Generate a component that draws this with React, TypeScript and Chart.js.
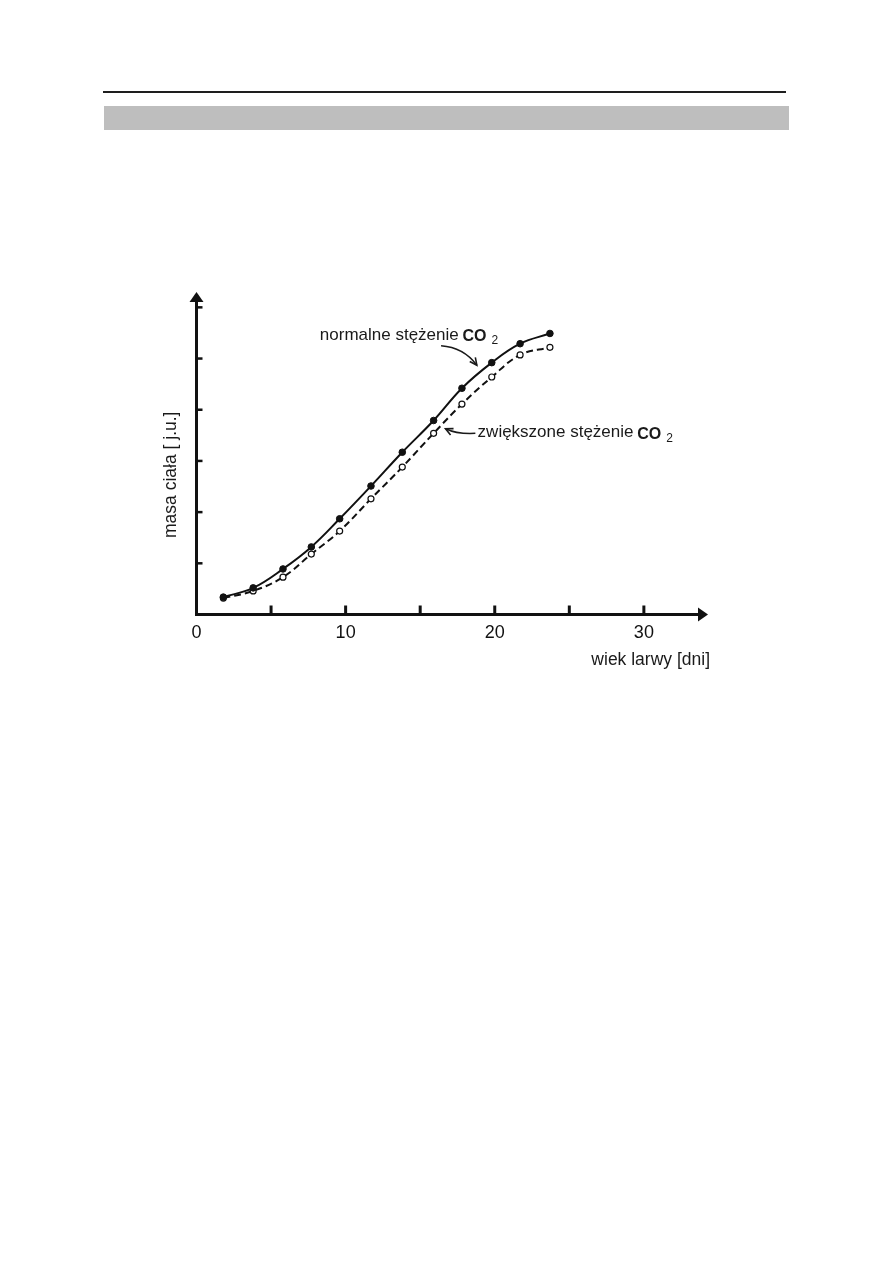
import React, { useEffect, useRef } from "react";
import { Chart, registerables } from "chart.js";

Chart.register(...registerables);

// Data (age of larva in days vs body mass in arbitrary units)
const days = [1.8, 3.8, 5.8, 7.7, 9.6, 11.7, 13.8, 15.9, 17.8, 19.8, 21.7, 23.7];
const normalCO2 = [0.34, 0.52, 0.89, 1.32, 1.87, 2.51, 3.17, 3.79, 4.42, 4.92, 5.29, 5.49];
const elevatedCO2 = [0.32, 0.46, 0.73, 1.18, 1.63, 2.26, 2.88, 3.54, 4.11, 4.64, 5.07, 5.22];

const xTickMarks = [5, 10, 15, 20, 25, 30];
const xTickLabels = [0, 10, 20, 30];
const yTickMarks = [1, 2, 3, 4, 5, 6];

const xTitle = "wiek larwy [dni]";
const yTitle = "masa ciała [ j.u.]";
const normalLabel = "normalne stężenie ";
const elevatedLabel = "zwiększone stężenie ";

const FONT = "'Liberation Sans', Arial, sans-serif";

const axesPlugin = {
  id: "customAxes",
  beforeDatasetsDraw(chart: any) {
    const { ctx, chartArea, scales } = chart;
    const xs = scales.x;
    const ys = scales.y;
    const x0 = xs.getPixelForValue(0);
    const y0 = ys.getPixelForValue(0);
    ctx.save();
    ctx.strokeStyle = "#111";
    ctx.fillStyle = "#111";
    ctx.lineWidth = 3;
    ctx.lineCap = "butt";
    // y axis
    ctx.beginPath();
    ctx.moveTo(x0, y0 + 1.5);
    ctx.lineTo(x0, chartArea.top + 8);
    ctx.stroke();
    ctx.beginPath();
    ctx.moveTo(x0, chartArea.top);
    ctx.lineTo(x0 - 7, chartArea.top + 10);
    ctx.lineTo(x0 + 7, chartArea.top + 10);
    ctx.closePath();
    ctx.fill();
    // x axis
    ctx.beginPath();
    ctx.moveTo(x0 - 1.5, y0);
    ctx.lineTo(chartArea.right - 8, y0);
    ctx.stroke();
    ctx.beginPath();
    ctx.moveTo(chartArea.right, y0);
    ctx.lineTo(chartArea.right - 10, y0 - 7);
    ctx.lineTo(chartArea.right - 10, y0 + 7);
    ctx.closePath();
    ctx.fill();
    // tick marks (inward)
    ctx.lineWidth = 3;
    xTickMarks.forEach((v) => {
      const px = xs.getPixelForValue(v);
      ctx.beginPath();
      ctx.moveTo(px, y0);
      ctx.lineTo(px, y0 - 9);
      ctx.stroke();
    });
    ctx.lineWidth = 2.5;
    yTickMarks.forEach((v) => {
      const py = ys.getPixelForValue(v);
      ctx.beginPath();
      ctx.moveTo(x0, py);
      ctx.lineTo(x0 + 6, py);
      ctx.stroke();
    });
    ctx.restore();
  },
  afterDraw(chart: any) {
    const { ctx, scales, chartArea } = chart;
    const xs = scales.x;
    const ys = scales.y;
    const P = (x: number, y: number) => [xs.getPixelForValue(x), ys.getPixelForValue(y)];
    ctx.save();
    ctx.fillStyle = "#1a1a1a";
    ctx.strokeStyle = "#1a1a1a";
    ctx.textBaseline = "middle";

    // axis titles
    ctx.font = `17.5px ${FONT}`;
    ctx.textAlign = "right";
    ctx.fillText(xTitle, chartArea.right + 2, ys.getPixelForValue(0) + 46);
    ctx.save();
    ctx.translate(xs.getPixelForValue(0) - 25, ys.getPixelForValue(2.73));
    ctx.rotate(-Math.PI / 2);
    ctx.textAlign = "center";
    ctx.fillText(yTitle, 0, 0);
    ctx.restore();

    const drawLabel = (text: string, x: number, y: number) => {
      ctx.textAlign = "left";
      ctx.font = `17px ${FONT}`;
      ctx.fillText(text, x, y);
      let cx = x + ctx.measureText(text).width - 1;
      ctx.font = `bold 16px ${FONT}`;
      ctx.fillText("CO", cx, y + 2);
      cx += ctx.measureText("CO").width + 5;
      ctx.font = `12px ${FONT}`;
      ctx.fillText("2", cx, y + 6);
    };

    const arrow = (sx: number, sy: number, cx: number, cy: number, tx: number, ty: number) => {
      ctx.lineWidth = 1.6;
      ctx.beginPath();
      ctx.moveTo(sx, sy);
      ctx.quadraticCurveTo(cx, cy, tx, ty);
      ctx.stroke();
      const ang = Math.atan2(ty - cy, tx - cx);
      const len = 8;
      ctx.beginPath();
      ctx.moveTo(tx - len * Math.cos(ang - 0.45), ty - len * Math.sin(ang - 0.45));
      ctx.lineTo(tx, ty);
      ctx.lineTo(tx - len * Math.cos(ang + 0.45), ty - len * Math.sin(ang + 0.45));
      ctx.stroke();
    };

    // normal CO2 annotation
    const [t1x, t1y] = P(8.27, 5.46);
    drawLabel(normalLabel, t1x, t1y);
    const [a1sx, a1sy] = P(16.4, 5.25);
    const [a1cx, a1cy] = P(17.9, 5.22);
    const [a1tx, a1ty] = P(18.8, 4.87);
    arrow(a1sx, a1sy, a1cx, a1cy, a1tx, a1ty);

    // elevated CO2 annotation
    const [t2x, t2y] = P(18.85, 3.56);
    drawLabel(elevatedLabel, t2x, t2y);
    const [a2sx, a2sy] = P(18.7, 3.54);
    const [a2cx, a2cy] = P(17.5, 3.52);
    const [a2tx, a2ty] = P(16.7, 3.63);
    arrow(a2sx, a2sy, a2cx, a2cy, a2tx, a2ty);

    ctx.restore();
  },
};

export default function App() {
  const ref = useRef<HTMLCanvasElement | null>(null);

  useEffect(() => {
    if (!ref.current) return;
    const chart = new Chart(ref.current, {
      type: "line",
      data: {
        datasets: [
          {
            label: "normalne stężenie CO2",
            data: days.map((d, i) => ({ x: d, y: normalCO2[i] })),
            borderColor: "#111",
            borderWidth: 2,
            pointRadius: 3.3,
            pointBackgroundColor: "#111",
            pointBorderColor: "#111",
            pointBorderWidth: 1,
            tension: 0.4,
            fill: false,
          },
          {
            label: "zwiększone stężenie CO2",
            data: days.map((d, i) => ({ x: d, y: elevatedCO2[i] })),
            borderColor: "#111",
            borderWidth: 2,
            borderDash: [7, 4],
            pointRadius: 3,
            pointBackgroundColor: "#fff",
            pointBorderColor: "#111",
            pointBorderWidth: 1.2,
            tension: 0.4,
            fill: false,
          },
        ],
      },
      options: {
        animation: false,
        responsive: false,
        maintainAspectRatio: false,
        layout: { padding: { left: 56.5, right: 32, top: 32, bottom: 55.5 } },
        plugins: {
          legend: { display: false },
          tooltip: { enabled: false },
          title: { display: false },
        },
        scales: {
          x: {
            type: "linear",
            min: 0,
            max: 34.3,
            grid: { display: false, drawTicks: false },
            border: { display: false },
            ticks: {
              stepSize: 5,
              includeBounds: false,
              autoSkip: false,
              maxRotation: 0,
              padding: 8,
              color: "#111",
              font: { family: FONT, size: 18 },
              callback: (v: any) => (xTickLabels.includes(Number(v)) ? String(v) : ""),
            },
            afterFit: (scale: any) => {
              scale.height = 30;
            },
          },
          y: {
            type: "linear",
            display: false,
            min: 0,
            max: 6.3,
            ticks: { stepSize: 1 },
          },
        },
      },
      plugins: [axesPlugin],
    } as any);
    return () => chart.destroy();
  }, []);

  return (
    <div style={{ position: "absolute", left: 0, top: 0, width: 893, height: 1263, background: "#fff" }}>
      <div style={{ position: "absolute", left: 103, top: 91, width: 683, height: 2, background: "#1e1e1e" }} />
      <div style={{ position: "absolute", left: 104, top: 106, width: 685, height: 24, background: "#bebebe" }} />
      <canvas
        ref={ref}
        width={600}
        height={440}
        style={{ position: "absolute", left: 140, top: 260, width: 600, height: 440 }}
      />
    </div>
  );
}
